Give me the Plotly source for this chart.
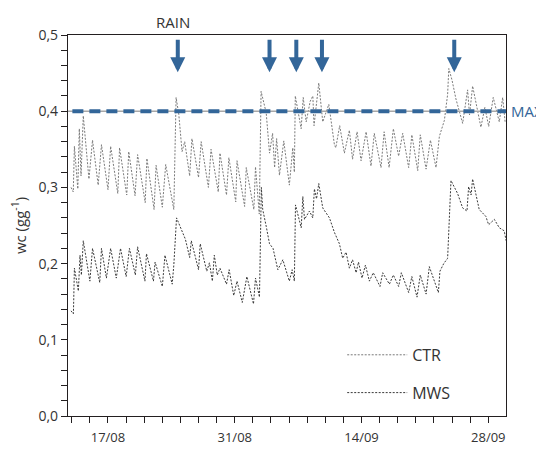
import plotly.graph_objects as go

# ---------------- data ----------------
ctr_time = [
    "2023-08-12 22:00", "2023-08-13 04:00", "2023-08-13 07:00", "2023-08-13 16:00", "2023-08-13 20:00",
    "2023-08-14 00:30", "2023-08-14 06:30", "2023-08-14 21:30", "2023-08-15 07:00", "2023-08-15 22:00",
    "2023-08-16 06:45", "2023-08-17 00:00", "2023-08-17 07:00", "2023-08-18 02:00", "2023-08-18 06:40",
    "2023-08-19 01:40", "2023-08-19 07:00", "2023-08-19 23:45", "2023-08-20 06:30", "2023-08-21 02:40",
    "2023-08-21 07:10", "2023-08-22 02:10", "2023-08-22 07:30", "2023-08-23 00:00", "2023-08-23 09:00",
    "2023-08-24 06:30", "2023-08-24 12:30", "2023-08-24 19:40", "2023-08-25 04:20", "2023-08-25 11:20",
    "2023-08-26 00:30", "2023-08-26 06:30", "2023-08-27 00:00", "2023-08-27 07:00", "2023-08-28 02:10",
    "2023-08-28 09:10", "2023-08-29 04:20", "2023-08-29 08:50", "2023-08-30 02:10", "2023-08-30 08:25",
    "2023-08-31 02:40", "2023-08-31 06:00", "2023-09-01 02:10", "2023-09-01 06:30", "2023-09-02 02:40",
    "2023-09-02 07:00", "2023-09-02 17:00", "2023-09-02 21:50", "2023-09-03 11:20", "2023-09-03 20:10",
    "2023-09-04 04:20", "2023-09-04 09:40", "2023-09-04 15:00", "2023-09-04 22:30", "2023-09-05 10:00",
    "2023-09-06 00:45", "2023-09-06 09:50", "2023-09-06 14:00", "2023-09-06 16:30", "2023-09-07 08:00",
    "2023-09-07 13:30", "2023-09-07 21:20", "2023-09-08 08:00", "2023-09-08 15:00", "2023-09-08 18:10",
    "2023-09-09 06:45", "2023-09-09 17:15", "2023-09-10 04:20", "2023-09-10 09:20", "2023-09-10 14:40",
    "2023-09-11 00:10", "2023-09-11 03:50", "2023-09-11 14:10", "2023-09-12 02:35", "2023-09-12 15:50",
    "2023-09-13 00:15", "2023-09-13 12:15", "2023-09-13 22:50", "2023-09-14 12:15", "2023-09-15 01:10",
    "2023-09-15 09:50", "2023-09-16 03:40", "2023-09-16 12:00", "2023-09-17 01:10", "2023-09-17 12:25",
    "2023-09-18 02:25", "2023-09-18 13:10", "2023-09-19 05:00", "2023-09-19 13:25", "2023-09-20 05:00",
    "2023-09-20 11:45", "2023-09-21 03:10", "2023-09-21 14:40", "2023-09-22 05:30", "2023-09-22 14:25",
    "2023-09-23 03:40", "2023-09-23 12:15", "2023-09-23 15:25", "2023-09-23 23:50", "2023-09-24 10:20",
    "2023-09-25 04:05", "2023-09-25 17:15", "2023-09-25 22:20", "2023-09-26 06:30", "2023-09-27 04:30",
    "2023-09-27 15:00", "2023-09-28 01:10", "2023-09-28 13:10", "2023-09-29 05:15", "2023-09-29 14:10",
    "2023-09-29 20:40",
]
ctr_wc = [
    0.300, 0.294, 0.354, 0.298, 0.377,
    0.315, 0.394, 0.311, 0.362, 0.303,
    0.356, 0.297, 0.354, 0.292, 0.352,
    0.290, 0.347, 0.289, 0.343, 0.280,
    0.338, 0.271, 0.329, 0.274, 0.330,
    0.271, 0.418, 0.396, 0.347, 0.360,
    0.315, 0.364, 0.313, 0.360, 0.300,
    0.350, 0.294, 0.345, 0.290, 0.339,
    0.281, 0.335, 0.275, 0.326, 0.271,
    0.327, 0.265, 0.426, 0.398, 0.345,
    0.371, 0.326, 0.364, 0.316, 0.361,
    0.303, 0.352, 0.320, 0.420, 0.377,
    0.418, 0.386, 0.413, 0.420, 0.381,
    0.437, 0.386, 0.403, 0.409, 0.390,
    0.356, 0.352, 0.381, 0.345, 0.375,
    0.337, 0.373, 0.335, 0.373, 0.328,
    0.371, 0.326, 0.373, 0.326, 0.377,
    0.341, 0.371, 0.326, 0.369, 0.322,
    0.369, 0.324, 0.362, 0.326, 0.367,
    0.388, 0.422, 0.456, 0.441, 0.416,
    0.384, 0.428, 0.395, 0.433, 0.379,
    0.405, 0.380, 0.418, 0.386, 0.418,
    0.386,
]

mws_time = [
    "2023-08-12 22:00", "2023-08-13 04:20", "2023-08-13 07:00", "2023-08-13 17:30", "2023-08-13 21:50",
    "2023-08-14 01:30", "2023-08-14 06:30", "2023-08-15 00:00", "2023-08-15 07:00", "2023-08-16 02:10",
    "2023-08-16 06:45", "2023-08-16 19:50", "2023-08-17 07:00", "2023-08-17 22:00", "2023-08-18 09:10",
    "2023-08-19 00:10", "2023-08-19 08:50", "2023-08-20 00:30", "2023-08-20 06:30", "2023-08-21 01:55",
    "2023-08-21 06:00", "2023-08-22 00:30", "2023-08-22 04:50", "2023-08-23 00:00", "2023-08-23 07:00",
    "2023-08-24 02:10", "2023-08-24 06:30", "2023-08-24 13:40", "2023-08-25 13:10", "2023-08-26 00:30",
    "2023-08-26 04:50", "2023-08-27 00:00", "2023-08-27 04:30", "2023-08-27 21:50", "2023-08-28 04:50",
    "2023-08-28 12:40", "2023-08-28 17:50", "2023-08-29 01:40", "2023-08-29 08:50", "2023-08-30 02:10",
    "2023-08-30 09:10", "2023-08-30 21:20", "2023-08-31 06:00", "2023-08-31 20:00", "2023-09-01 08:10",
    "2023-09-02 01:40", "2023-09-02 07:00", "2023-09-02 17:30", "2023-09-02 22:30", "2023-09-03 02:10",
    "2023-09-03 11:20", "2023-09-03 20:10", "2023-09-04 05:30", "2023-09-04 18:10", "2023-09-05 07:30",
    "2023-09-06 00:45", "2023-09-06 08:10", "2023-09-06 14:00", "2023-09-06 17:00", "2023-09-07 08:10",
    "2023-09-07 12:30", "2023-09-07 16:50", "2023-09-08 06:00", "2023-09-08 14:50", "2023-09-08 19:10",
    "2023-09-09 00:45", "2023-09-09 06:45", "2023-09-09 17:15", "2023-09-10 11:00", "2023-09-11 00:10",
    "2023-09-11 13:25", "2023-09-11 22:05", "2023-09-12 07:00", "2023-09-12 15:50", "2023-09-13 00:15",
    "2023-09-13 09:40", "2023-09-13 16:00", "2023-09-14 01:25", "2023-09-14 10:20", "2023-09-14 20:50",
    "2023-09-15 07:10", "2023-09-16 01:00", "2023-09-16 08:10", "2023-09-17 01:55", "2023-09-17 12:25",
    "2023-09-18 02:25", "2023-09-18 09:35", "2023-09-19 05:00", "2023-09-19 13:25", "2023-09-20 03:10",
    "2023-09-20 11:45", "2023-09-21 03:10", "2023-09-21 11:45", "2023-09-22 01:00", "2023-09-22 11:45",
    "2023-09-22 15:50", "2023-09-23 01:55", "2023-09-23 12:15", "2023-09-23 21:10", "2023-09-24 14:40",
    "2023-09-25 04:05", "2023-09-25 15:35", "2023-09-25 19:55", "2023-09-26 02:25", "2023-09-26 06:30",
    "2023-09-27 00:00", "2023-09-27 17:30", "2023-09-28 01:00", "2023-09-28 16:05", "2023-09-29 05:15",
    "2023-09-29 18:15", "2023-09-29 23:20",
]
mws_wc = [
    0.138, 0.134, 0.194, 0.164, 0.211,
    0.185, 0.230, 0.177, 0.220, 0.175,
    0.220, 0.181, 0.220, 0.181, 0.220,
    0.183, 0.220, 0.185, 0.222, 0.177,
    0.213, 0.177, 0.202, 0.170, 0.211,
    0.173, 0.198, 0.260, 0.232, 0.208,
    0.230, 0.192, 0.226, 0.190, 0.201,
    0.177, 0.211, 0.185, 0.194, 0.173,
    0.192, 0.158, 0.177, 0.149, 0.183,
    0.147, 0.181, 0.156, 0.300, 0.271,
    0.249, 0.226, 0.220, 0.192, 0.205,
    0.177, 0.192, 0.177, 0.277, 0.247,
    0.288, 0.258, 0.269, 0.260, 0.298,
    0.285, 0.305, 0.273, 0.260, 0.241,
    0.226, 0.207, 0.215, 0.194, 0.205,
    0.188, 0.202, 0.181, 0.198, 0.177,
    0.188, 0.170, 0.188, 0.173, 0.185,
    0.170, 0.188, 0.162, 0.183, 0.156,
    0.185, 0.160, 0.196, 0.177, 0.162,
    0.190, 0.200, 0.207, 0.309, 0.292,
    0.273, 0.269, 0.301, 0.290, 0.311,
    0.271, 0.262, 0.251, 0.258, 0.247,
    0.243, 0.230,
]

rain_dates = ["2023-08-24 17:00", "2023-09-03 20:10", "2023-09-06 19:10",
              "2023-09-09 15:10", "2023-09-24 05:50"]
max_wc = 0.4

x_tick_vals = ["2023-08-17", "2023-08-31", "2023-09-14", "2023-09-28"]
x_tick_text = ["17/08", "31/08", "14/09", "28/09"]
x_range = ["2023-08-12 14:00", "2023-09-29 23:00"]
y_range = [0, 0.5]

# ---------------- style ----------------
BLUE = "#336699"
AXIS = "#231f20"
TXT = "#333333"
FONT = "Open Sans"
ARROW_TIP = 0.451

fig = go.Figure()
fig.add_trace(go.Scatter(x=ctr_time, y=ctr_wc, mode="lines", name="CTR",
                         line=dict(color="#7a7a7a", width=1, dash="2px,1.5px"),
                         legendgroup="a"))
fig.add_trace(go.Scatter(x=mws_time, y=mws_wc, mode="lines", name="MWS",
                         line=dict(color="#3a3a3a", width=1, dash="2px,1.5px"),
                         legendgroup="b"))

# MAX reference line: thin grey line with thick blue dashes on top
fig.add_shape(type="line", xref="paper", x0=0, x1=1, yref="y", y0=max_wc, y1=max_wc,
              line=dict(color="#a8a8a8", width=1.5), layer="above")
fig.add_shape(type="line", xref="paper", x0=0.01, x1=1, yref="y", y0=max_wc, y1=max_wc,
              line=dict(color=BLUE, width=4, dash="11px,6px"), layer="above")
fig.add_annotation(xref="paper", x=1, y=max_wc, text="MAX", showarrow=False,
                   xanchor="left", xshift=3, font=dict(family=FONT, size=15, color=BLUE))

for d in rain_dates:
    fig.add_annotation(x=d, y=ARROW_TIP, text="", showarrow=True, ax=0, ay=-34,
                       arrowhead=2, arrowwidth=4, arrowsize=0.75, arrowcolor=BLUE)
fig.add_annotation(x=rain_dates[0], yref="paper", y=1, yshift=13, xshift=-5,
                   text="RAIN", showarrow=False, yanchor="middle",
                   font=dict(family=FONT, size=15, color=TXT))

fig.update_layout(
    width=536, height=450,
    margin=dict(l=54, r=38, t=27, b=32),
    paper_bgcolor="white", plot_bgcolor="white",
    separators=",.",
    font=dict(family=FONT, size=13, color=TXT),
    showlegend=True,
    legend=dict(x=0.626, y=0.205, xanchor="left", yanchor="top",
                bgcolor="rgba(0,0,0,0)", font=dict(size=16, family=FONT, color=TXT),
                tracegroupgap=14, itemwidth=60),
)
fig.update_xaxes(
    type="date", range=x_range, tickvals=x_tick_vals, ticktext=x_tick_text,
    ticks="outside", ticklen=6, tickwidth=1, tickcolor=AXIS,
    showline=True, linecolor=AXIS, linewidth=1.2, mirror=True,
    showgrid=False, zeroline=False, ticklabelstandoff=3,
    minor=dict(ticks="outside", ticklen=6, tickwidth=1, tickcolor=AXIS,
               dtick=2 * 86400000, tick0="2023-08-13", showgrid=False),
    tickfont=dict(size=13, family=FONT, color=TXT),
)
fig.update_yaxes(
    range=y_range, dtick=0.1, tickformat=".1f",
    ticks="outside", ticklen=6, tickwidth=1, tickcolor=AXIS,
    showline=True, linecolor=AXIS, linewidth=1.2, mirror=True,
    showgrid=False, zeroline=False,
    minor=dict(ticks="outside", ticklen=6, tickwidth=1, tickcolor=AXIS, dtick=0.02, showgrid=False),
    tickfont=dict(size=14, family=FONT, color=TXT),
    title=dict(text="wc (gg<sup>-1</sup>)", font=dict(size=15, family=FONT, color=TXT), standoff=8),
)

fig.write_html("out.html")
